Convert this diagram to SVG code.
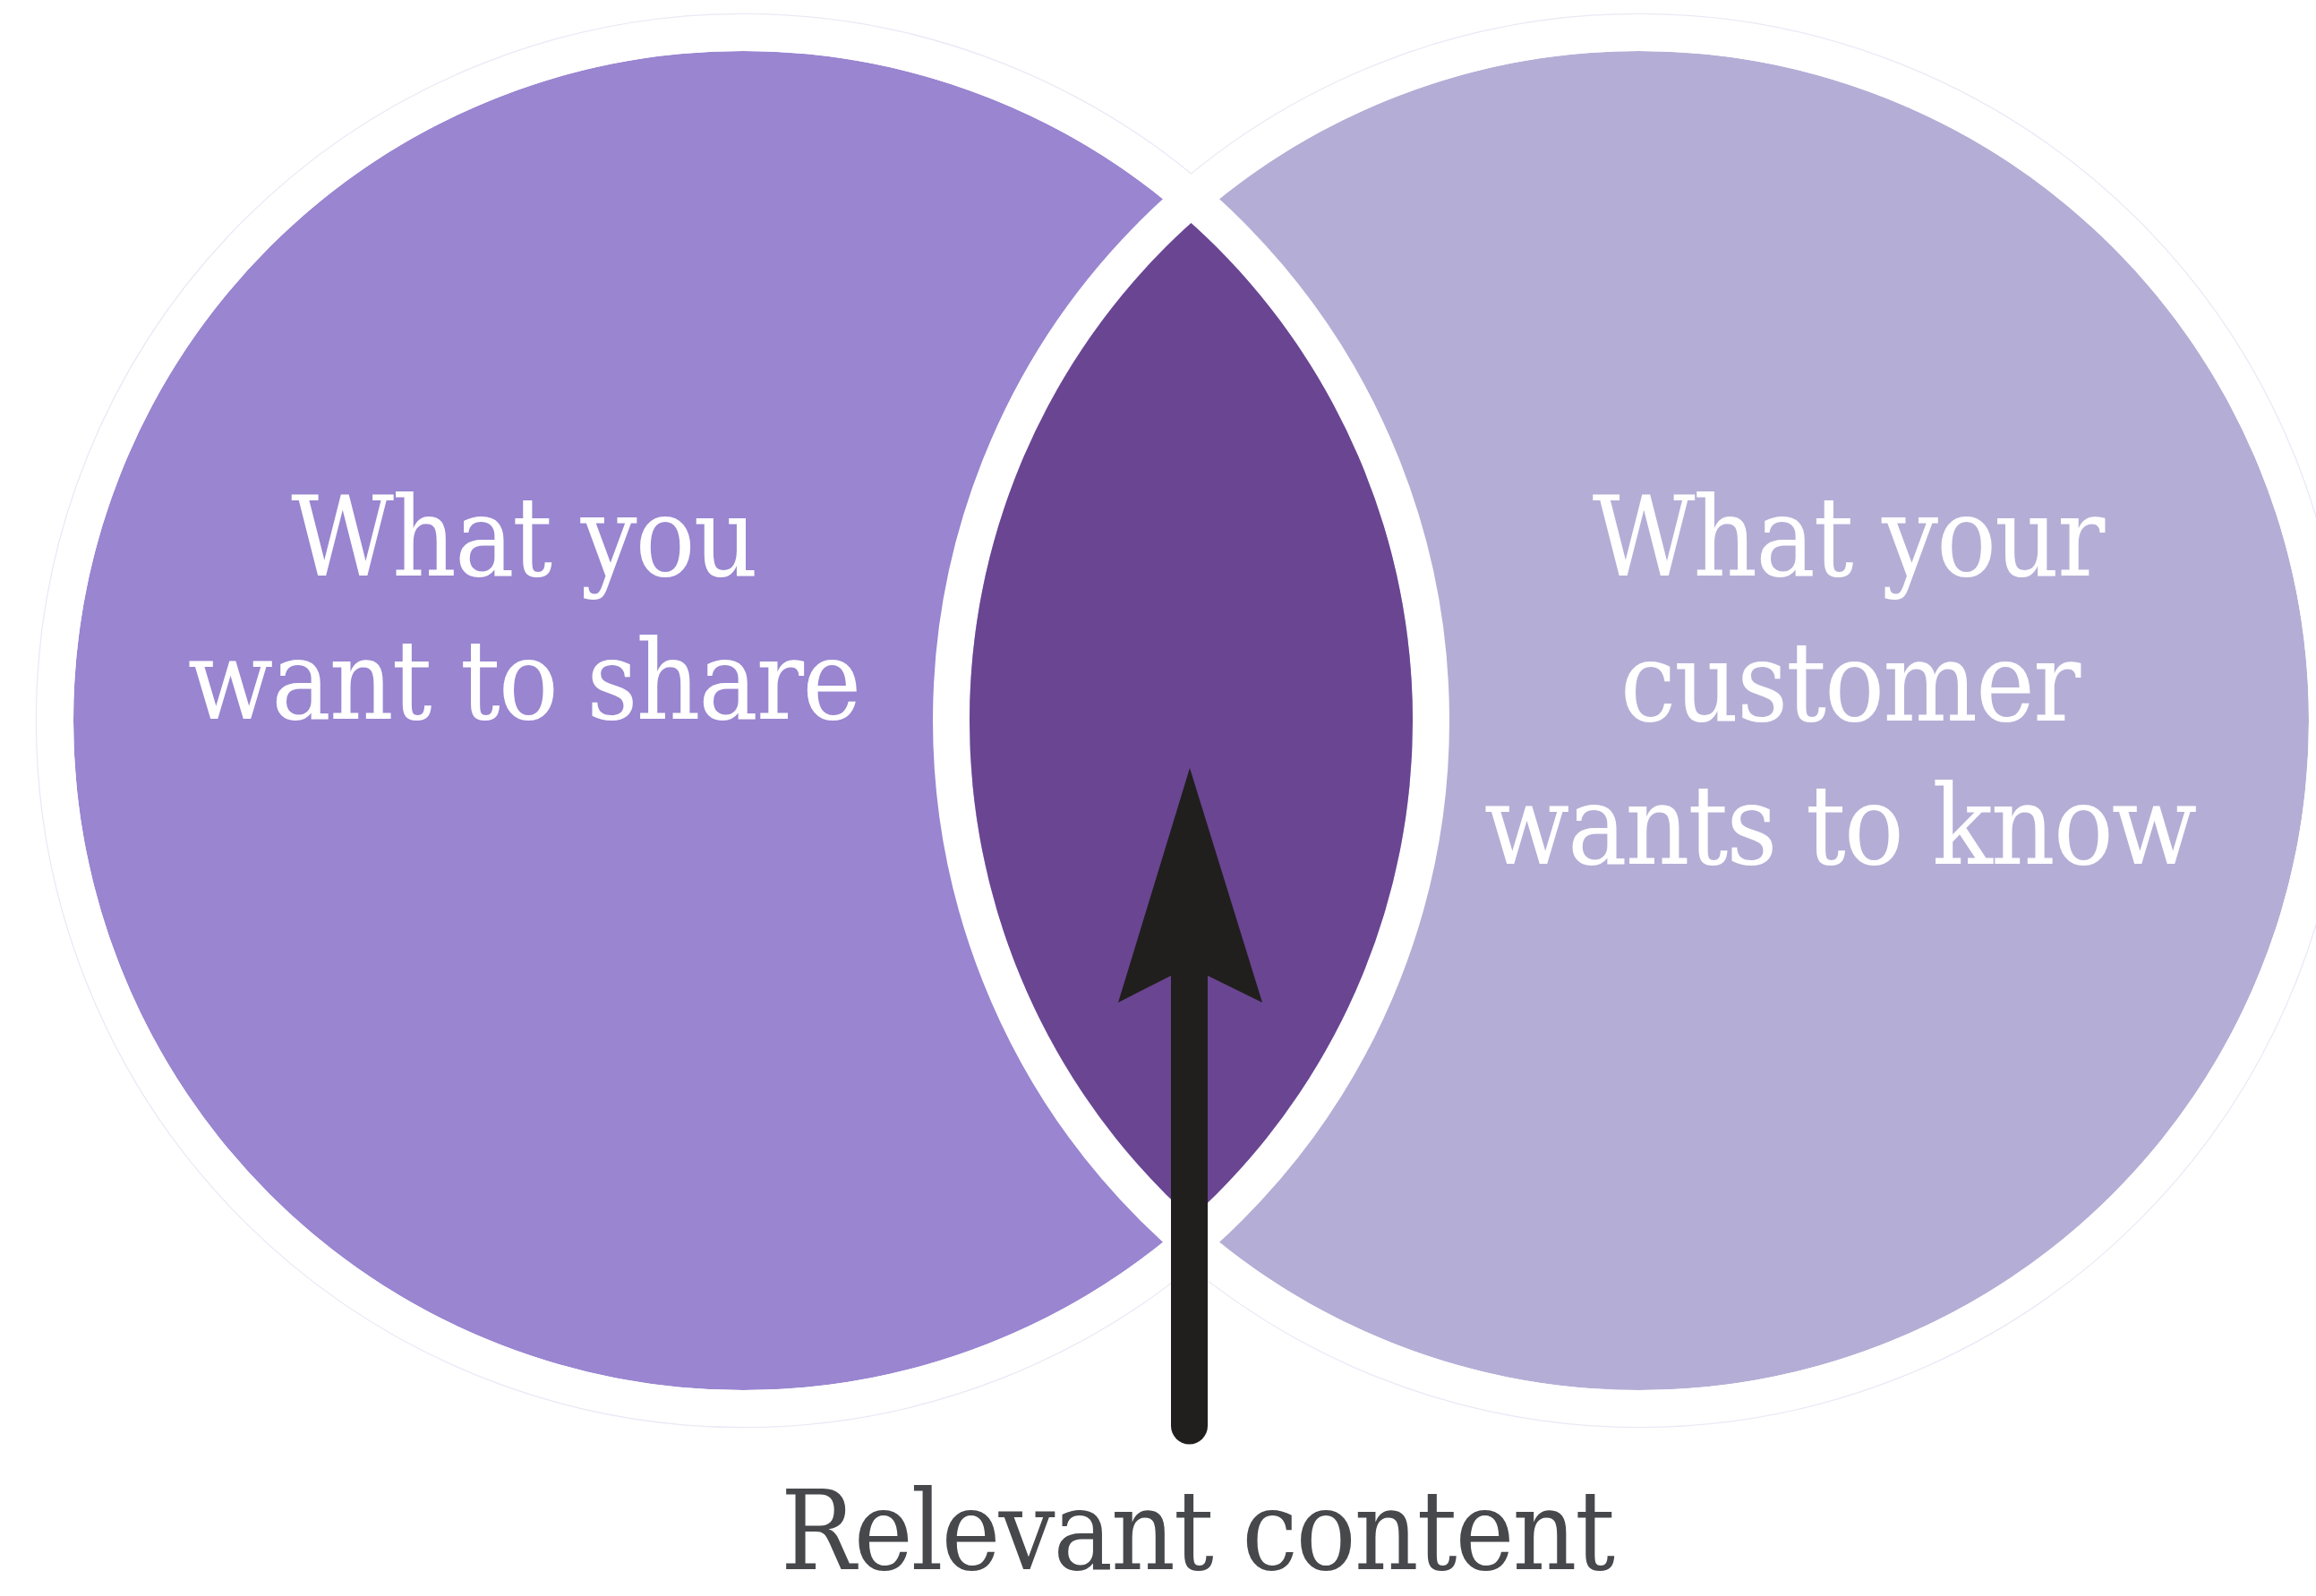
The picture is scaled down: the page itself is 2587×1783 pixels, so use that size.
<svg xmlns="http://www.w3.org/2000/svg" width="2587" height="1783" viewBox="0 0 2587 1783">
<defs>
<style>
.faint{fill:none;stroke:#ebe8f5;stroke-width:2.5}
.band{fill:none;stroke:#ffffff;stroke-width:41}
.lbl{font-family:'DejaVu Serif Condensed','DejaVu Serif','Liberation Serif',serif;font-stretch:condensed;font-size:124px;letter-spacing:-2px;text-anchor:middle}
.white{fill:#ffffff}
.dark{fill:#47484c}
</style>
<clipPath id="clipC1"><circle cx="830" cy="805" r="748"/></clipPath>
</defs>
<rect width="2587" height="1783" fill="#ffffff"/>
<g id="outlines">
<circle class="faint" cx="830" cy="805" r="789"/>
<circle class="faint" cx="1831" cy="805" r="789"/>
</g>
<g id="share">
<circle cx="830" cy="805" r="748" fill="#9985d0"/>
</g>
<g id="know">
<circle cx="1831" cy="805" r="748" fill="#b4aed6"/>
</g>
<g id="gaps">
<circle class="band" cx="830" cy="805" r="768.5"/>
<circle class="band" cx="1831" cy="805" r="768.5"/>
</g>
<g id="relevant">
<circle cx="1831" cy="805" r="748" fill="#6a4592" clip-path="url(#clipC1)"/>
</g>
<g id="share-label">
<text class="lbl white" x="585" y="643">What you</text>
<text class="lbl white" x="585" y="803">want to share</text>
</g>
<g id="know-label">
<text class="lbl white" x="2064" y="643">What your</text>
<text class="lbl white" x="2066" y="805">customer</text>
<text class="lbl white" x="2055" y="965">wants to know</text>
</g>
<g id="connectors">
<line x1="1328.5" y1="1085" x2="1328.5" y2="1593" stroke="#201f1d" stroke-width="41" stroke-linecap="round"/>
<path d="M1329,858 L1410,1120 L1349,1090 L1308,1090 L1249,1120 Z" fill="#201f1d"/>
</g>
<g id="relevant-label">
<text class="lbl dark" x="1337" y="1753">Relevant content</text>
</g>
</svg>
